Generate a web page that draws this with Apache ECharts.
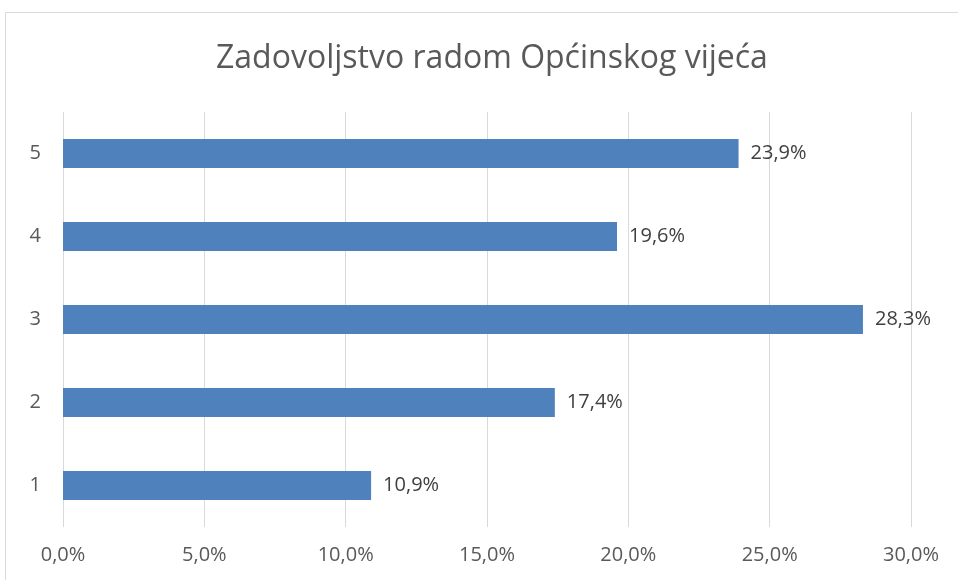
<!DOCTYPE html>
<html>
<head>
<meta charset="utf-8">
<script src="https://cdn.jsdelivr.net/npm/echarts@6/dist/echarts.min.js"></script>
<style>
  html, body { margin: 0; padding: 0; background: #fff; }
  #chart { width: 958px; height: 580px; }
</style>
</head>
<body>
<div id="chart"></div>
<script>
// ocjene i postoci
const categories = ['1', '2', '3', '4', '5'];
const values = [10.9, 17.4, 28.3, 19.6, 23.9];

const myChart = echarts.init(document.getElementById('chart'));

const option = {
    animation: false,
    textStyle: { fontFamily: 'Open Sans' },
    title: {
        text: 'Zadovoljstvo radom Općinskog vijeća',
        left: 211,
        top: 38,
        textStyle: { fontSize: 32, fontWeight: 'normal', color: '#595959', fontFamily: 'Open Sans' }
    },
    // okvir oko grafikona
    graphic: [{
        type: 'rect',
        shape: { x: 5.5, y: 12.5, width: 1000, height: 1000 },
        style: { fill: 'none', stroke: '#d9d9d9', lineWidth: 1 },
        silent: true
    }],
    grid: { left: 63, right: 47, top: 112, bottom: 53, containLabel: false },
    xAxis: {
        type: 'value',
        min: 0,
        max: 30,
        interval: 5,
        axisLine: { show: false },
        axisTick: { show: false },
        splitLine: { lineStyle: { color: '#d9d9d9', width: 1 } },
        axisLabel: {
            color: '#595959',
            fontSize: 20,
            margin: 18,
            formatter: v => v.toFixed(1).replace('.', ',') + '%'
        }
    },
    yAxis: {
        type: 'category',
        data: categories,
        axisLine: { show: false },
        axisTick: { show: false },
        axisLabel: { color: '#595959', fontSize: 20, margin: 22 }
    },
    series: [{
        type: 'bar',
        data: values,
        barWidth: 29,
        itemStyle: { color: '#4f81bd' },
        label: {
            show: true,
            position: 'right',
            distance: 12,
            color: '#404040',
            fontSize: 20,
            formatter: p => p.value.toFixed(1).replace('.', ',') + '%'
        }
    }]
};

myChart.setOption(option);
</script>
</body>
</html>
